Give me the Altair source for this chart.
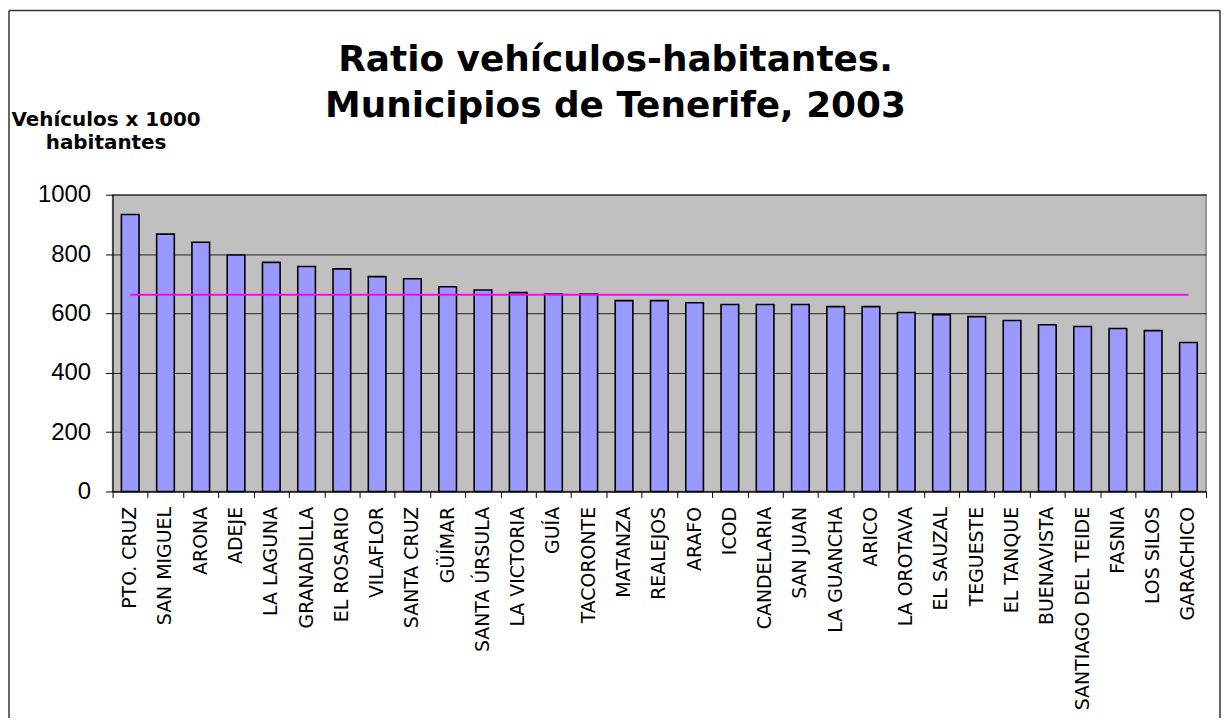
import altair as alt
import pandas as pd

municipios = ["PTO. CRUZ", "SAN MIGUEL", "ARONA", "ADEJE", "LA LAGUNA", "GRANADILLA",
              "EL ROSARIO", "VILAFLOR", "SANTA CRUZ", "GÜÍMAR", "SANTA ÚRSULA",
              "LA VICTORIA", "GUÍA", "TACORONTE", "MATANZA", "REALEJOS", "ARAFO",
              "ICOD", "CANDELARIA", "SAN JUAN", "LA GUANCHA", "ARICO", "LA OROTAVA",
              "EL SAUZAL", "TEGUESTE", "EL TANQUE", "BUENAVISTA", "SANTIAGO DEL TEIDE",
              "FASNIA", "LOS SILOS", "GARACHICO"]
valores = [933, 867, 840, 797, 772, 758, 750, 724, 717, 690, 679, 670, 665, 665, 643,
           643, 636, 630, 630, 630, 623, 623, 603, 596, 589, 576, 562, 556, 549, 542, 502]
media_tenerife = 663
y_ticks = [0, 200, 400, 600, 800, 1000]
titulo = ["Ratio vehículos-habitantes.", "Municipios de Tenerife, 2003"]

df = pd.DataFrame({"Municipio": municipios, "Ratio": valores,
                   "Media": [media_tenerife] * len(municipios)})
df_bounds = pd.DataFrame({"b": list(range(len(municipios) + 1))})
df_one = pd.DataFrame({"k": [0]})

x_enc = alt.X("Municipio:N", sort=municipios,
              scale=alt.Scale(paddingInner=0.5, paddingOuter=0.25),
              axis=alt.Axis(orient="bottom", title=None, labelAngle=-90, labelAlign="right",
                            labelBaseline="middle", labelFont="DejaVu Sans", labelFontSize=19,
                            labelColor="black", labelPadding=15, ticks=False, tickSize=0,
                            domain=False, labelOverlap=False, labelLimit=400))

y_enc = alt.Y("Ratio:Q", scale=alt.Scale(domain=[0, 1000], nice=False),
              axis=alt.Axis(values=y_ticks, format="d", title=["Vehículos x 1000", "habitantes"],
                            titleAngle=0, titleAlign="center", titleBaseline="alphabetic",
                            titleX=-7, titleY=-69, titleFont="DejaVu Sans",
                            titleFontSize=20, titleFontWeight="bold", titleLineHeight=23,
                            titleColor="black",
                            labelFont="Liberation Sans", labelFontSize=24, labelColor="black",
                            labelPadding=15, tickSize=7, tickColor="black",
                            domainColor="black", grid=True, gridColor="#222222",
                            gridWidth=1))

bars = alt.Chart(df).mark_bar(color="#9999FF", stroke="black", strokeWidth=1.6).encode(
    x=x_enc, y=y_enc)

line = alt.Chart(df).mark_line(color="#FF00FF", strokeWidth=2).encode(
    x=alt.X("Municipio:N", sort=municipios), y=alt.Y("Media:Q"))

main = alt.layer(bars, line)

ticks_layer = alt.Chart(df_bounds).mark_point(opacity=0).encode(
    x=alt.X("b:Q", scale=alt.Scale(domain=[0, len(municipios)], nice=False, zero=False),
            axis=alt.Axis(orient="bottom", title=None, labels=False,
                          values=list(range(len(municipios) + 1)),
                          tickSize=6, tickColor="black", domainColor="black", grid=False)))

title_text = alt.Chart(df_one).mark_text(
    font="DejaVu Sans", fontSize=36, fontWeight="bold", color="black",
    align="center", baseline="alphabetic", lineHeight=46).encode(
    x=alt.value(505), y=alt.value(-124), text=alt.value(titulo))

frame = alt.Chart(df_one).mark_rule(color="#333333", strokeWidth=1.5)
frame_left = frame.encode(x=alt.value(-104), y=alt.value(-185), y2=alt.value(530))
frame_top = frame.encode(x=alt.value(-104), x2=alt.value(1112), y=alt.value(-185))
frame_right = frame.encode(x=alt.value(1112), y=alt.value(-185), y2=alt.value(530))

chart = alt.layer(main, ticks_layer, title_text, frame_left, frame_top, frame_right).resolve_scale(
    x="independent").properties(
    width=1098, height=298,
    autosize=alt.AutoSizeParams(type="none"),
    padding={"left": 105, "top": 186, "right": 15, "bottom": 226},
    background="white"
).configure_view(fill="#C0C0C0", stroke="#808080", strokeWidth=1.5)

chart.save("out.html", embed_options={"renderer": "svg", "actions": False})
